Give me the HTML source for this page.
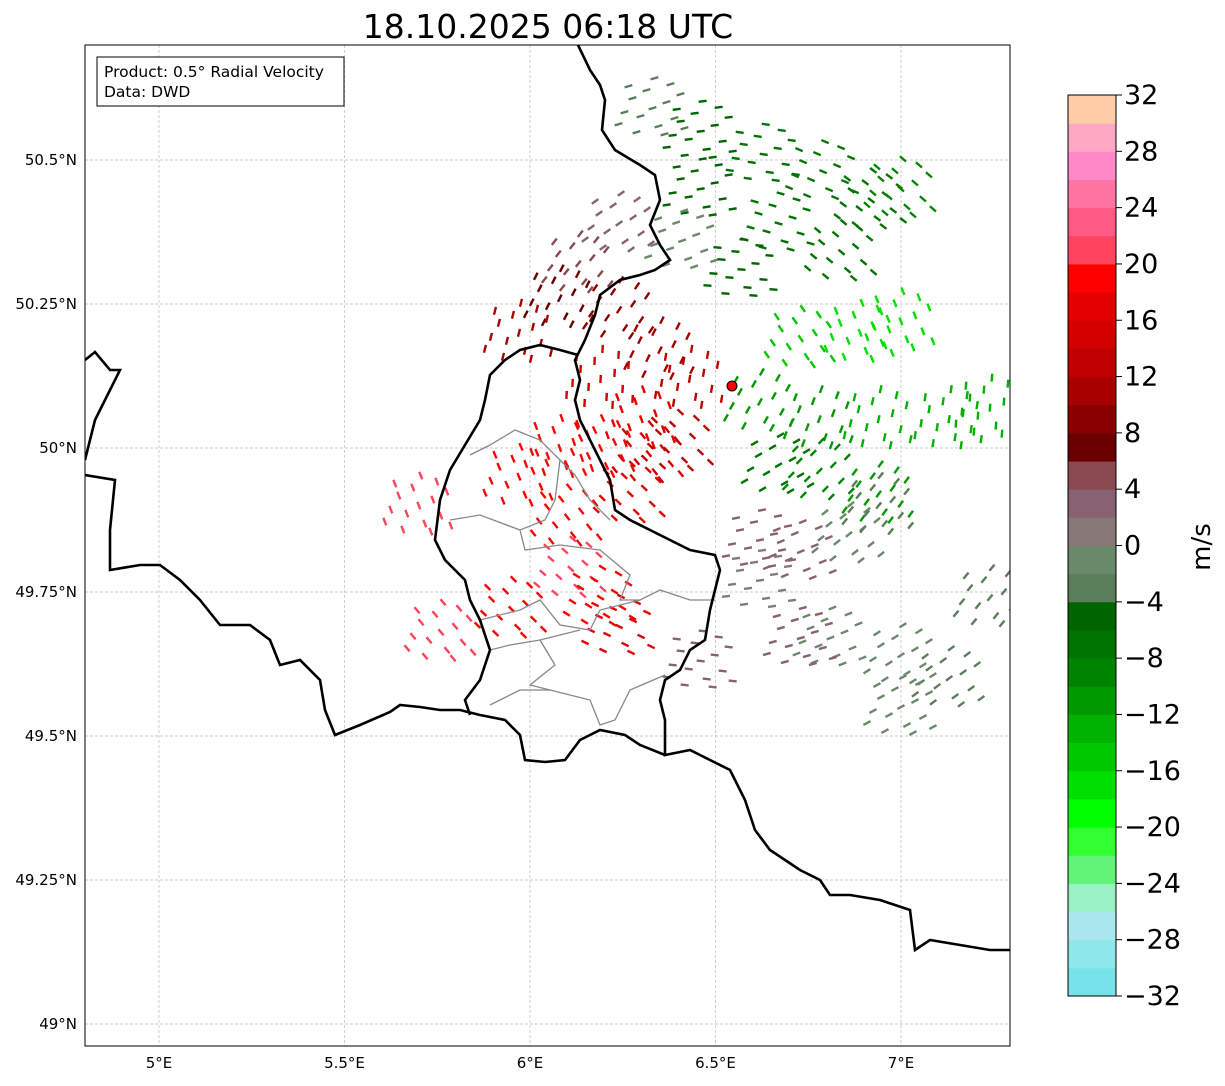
<!DOCTYPE html>
<html><head><meta charset="utf-8"><style>
body{margin:0;background:#fff;font-family:"Liberation Sans","DejaVu Sans",sans-serif}
svg text{font-family:"DejaVu Sans","Liberation Sans",sans-serif}
</style></head><body>
<svg id="s" width="1225" height="1081" viewBox="0 0 1225 1081" xmlns="http://www.w3.org/2000/svg">
<rect width="1225" height="1081" fill="#fff"/>
<text x="548" y="38" font-size="33" text-anchor="middle">18.10.2025 06:18 UTC</text>
<defs><clipPath id="mapclip"><rect x="85" y="45" width="925" height="1001"/></clipPath></defs>
<g id="grid"></g>
<g id="echoes" clip-path="url(#mapclip)"></g>
<g clip-path="url(#mapclip)" fill="none">
<polyline stroke="#888" stroke-width="1.3" points="470,455 490,445 515,430 540,440 560,460 555,500 545,520 520,530 525,550 560,545 600,550 630,575 620,600 640,600 660,590 690,600 715,600"/>
<polyline stroke="#888" stroke-width="1.3" points="450,520 480,515 520,530"/>
<polyline stroke="#888" stroke-width="1.3" points="480,620 520,610 540,600 560,625 590,630 600,610 640,600"/>
<polyline stroke="#888" stroke-width="1.3" points="540,640 555,665 530,685 550,690 590,700 600,725 615,720 630,690 665,675"/>
<polyline stroke="#888" stroke-width="1.3" points="490,650 510,645 540,640 580,630"/>
<polyline stroke="#888" stroke-width="1.3" points="490,705 520,690 550,690"/>
<polyline stroke="#888" stroke-width="1.3" points="560,460 575,475 590,500 610,520"/>
<polyline stroke="#000" stroke-width="2.6" points="578,45 590,70 600,85 605,100 602,130 615,150 640,165 655,175 660,200 650,225 660,245 670,260 655,270 640,275 620,280 600,295 595,315 585,340 575,360 580,380 575,400 580,420 590,440 600,460 610,480 615,510 630,520 660,535 690,550 715,555 720,570 715,590 710,610 705,640 690,650 680,670 665,680 660,700 665,720 665,755 690,750 710,760 730,770 745,800 755,830 770,850 800,870 820,880 830,895 850,895 880,900 910,910 915,950 930,940 960,945 990,950 1010,950"/>
<polyline stroke="#000" stroke-width="2.6" points="578,355 560,350 540,345 520,350 505,360 490,375 485,400 480,420 465,445 450,470 440,500 435,540 445,560 465,580 470,600 480,620 490,650 480,680 465,700 470,715"/>
<polyline stroke="#000" stroke-width="2.6" points="85,475 115,480 110,530 110,570 140,565 160,565 180,580 200,600 220,625 250,625 270,640 280,665 300,660 320,680 325,710 335,735 360,725 390,712 400,705 420,707 440,710 460,710 480,715 505,720 520,735 525,760 545,762 565,760 580,740 600,730 625,735 640,745 665,755"/>
<polyline stroke="#000" stroke-width="2.6" points="85,360 95,352 110,370 120,370 105,400 95,420 90,440 85,460"/>
</g>
<circle cx="732" cy="386" r="5" fill="#f00" stroke="#000" stroke-width="1"/>
<rect x="85" y="45" width="925" height="1001" fill="none" stroke="#000" stroke-width="1"/>
<rect x="97" y="57" width="247" height="49" fill="#fff" stroke="#000" stroke-width="1"/>
<text x="104" y="77" font-size="15.5">Product: 0.5° Radial Velocity</text>
<text x="104" y="97" font-size="15.5">Data: DWD</text>
<g id="cbar"></g>
<text x="0" y="0" font-size="26" text-anchor="middle" transform="translate(1210,547) rotate(-90)">m/s</text>
</svg>
<script>
const lonTicks=[5,5.5,6,6.5,7];
const lonTickLabels=["5°E","5.5°E","6°E","6.5°E","7°E"];
const latTicks=[50.5,50.25,50,49.75,49.5,49.25,49];
const latTickLabels=["50.5°N","50.25°N","50°N","49.75°N","49.5°N","49.25°N","49°N"];
const cbTicks=[-32,-28,-24,-20,-16,-12,-8,-4,0,4,8,12,16,20,24,28,32];
const cbColors=["#78e2ea","#8ee8ea","#a8e8ec","#98f2c4","#62f478","#30ff30","#00ff00","#00e000","#00c800","#00b200","#009a00","#008400","#007400","#006400","#5a7e5a","#6a886a","#887878","#886272","#884a50","#6a0000","#8a0000","#a80000","#c00000","#d40000","#e40000","#ff0000","#ff4460","#ff5a82","#ff74a2","#ff88c8","#ffa8c4","#ffcca8"];
// echo clusters: lon, lat, velocity
const echoLon=[6.63,6.79,6.46,6.33,6.92,6.67,6.84,7.0,6.46,6.57,6.41,6.24,6.13,6.24,6.08,5.97,6.19,6.30,6.08,6.19,5.97,6.10,6.27,6.32,6.40,6.43,6.35,6.11,6.19,6.24,5.95,5.76,5.70,6.73,6.89,7.0,6.62,6.78,6.94,7.13,7.24,6.78,6.94,6.67,6.62,6.73,6.86,6.94,6.62,6.81,7.0,7.13,7.0,6.73,6.46,7.24];
const echoLat=[50.51,50.48,50.55,50.59,50.43,50.39,50.34,50.45,50.45,50.31,50.36,50.39,50.32,50.24,50.26,50.20,50.12,50.05,50.0,50.0,49.95,49.88,49.92,49.99,50.01,50.12,50.17,49.79,49.74,49.69,49.72,49.68,49.90,50.19,50.2,50.22,50.08,50.05,50.05,50.05,50.07,49.96,49.92,49.97,49.84,49.82,49.85,49.90,49.77,49.67,49.64,49.60,49.55,49.67,49.63,49.74];
const echoVel=[-7,-7,-6,-4,-8,-8,-8,-9,-6,-5,-2,2,5,9,6,10,14,17,18,19,18,18,16,15,13,12,10,20,18,17,19,20,20,-15,-17,-17,-12,-12,-13,-14,-13,-10,-11,-8,2,3,-2,-3,1,-1,-2,-3,-2,3,3,-3];
const NS="http://www.w3.org/2000/svg";
const X0=85,X1=1010,Y0=45,Y1=1046;
function xs(lon){return 159+(lon-5)*371;}
function ys(lat){return 448-(lat-50)*576;}
function mk(t,a,p){const e=document.createElementNS(NS,t);for(const k in a)e.setAttribute(k,a[k]);p.appendChild(e);return e;}
const grid=document.getElementById('grid'),svg=document.getElementById('s');
lonTicks.forEach((v,i)=>{const x=xs(v);
 const l=mk('line',{x1:x,x2:x,y1:Y0,y2:Y1,stroke:'#bbb','stroke-width':0.7,'stroke-dasharray':'3,2'},grid);
 
 const t=mk('text',{x:x,y:1068,'font-size':15,'text-anchor':'middle'},svg);t.textContent=lonTickLabels[i];
 });
latTicks.forEach((v,i)=>{const y=ys(v);
 const l=mk('line',{x1:X0,x2:X1,y1:y,y2:y,stroke:'#bbb','stroke-width':0.7,'stroke-dasharray':'3,2'},grid);
 
 const t=mk('text',{x:77,y:y+5,'font-size':15,'text-anchor':'end'},svg);t.textContent=latTickLabels[i];
 });
function colorFor(v){let i=Math.floor((v+32)/2);i=Math.max(0,Math.min(31,i));return cbColors[i];}
const eg=document.getElementById('echoes');
const offs=[[0,0],[14,-6],[-12,8],[22,10],[-20,-10],[6,18],[-6,-18],[28,-14],[-28,4],[12,26],[-16,24],[18,-24],[-24,-22],[32,20],[2,-30],[-34,16]];
for(let i=0;i<echoLon.length;i++){
 const cx=xs(echoLon[i]),cy=ys(echoLat[i]);
 const ang=Math.atan2(cy-386,cx-732)*180/Math.PI+90;
 offs.forEach(o=>{const r=mk('rect',{x:cx+o[0]-4,y:cy+o[1]-1.1,width:8,height:2.4,fill:colorFor(echoVel[i]),transform:`rotate(${ang.toFixed(1)} ${cx+o[0]} ${cy+o[1]})`},eg);
  });
}
const cb=document.getElementById('cbar');const CX=1068,CW=48,CT=95,CB=996;
function cy(v){return CB-(v+32)/64*(CB-CT);}
cbColors.forEach((c,i)=>{const v=-32+2*i;const r=mk('rect',{x:CX,y:cy(v+2),width:CW,height:cy(v)-cy(v+2)+0.5,fill:c},cb);
 });
mk('rect',{x:CX,y:CT,width:CW,height:CB-CT,fill:'none',stroke:'#000','stroke-width':1},cb);
cbTicks.forEach(v=>{const y=cy(v);mk('line',{x1:CX+CW,x2:CX+CW+6,y1:y,y2:y,stroke:'#000'},cb);
 const t=mk('text',{x:CX+CW+8,y:y+9,'font-size':27},cb);t.textContent=(v<0?'\u2212'+(-v):''+v);
 });
</script>
</body></html>
